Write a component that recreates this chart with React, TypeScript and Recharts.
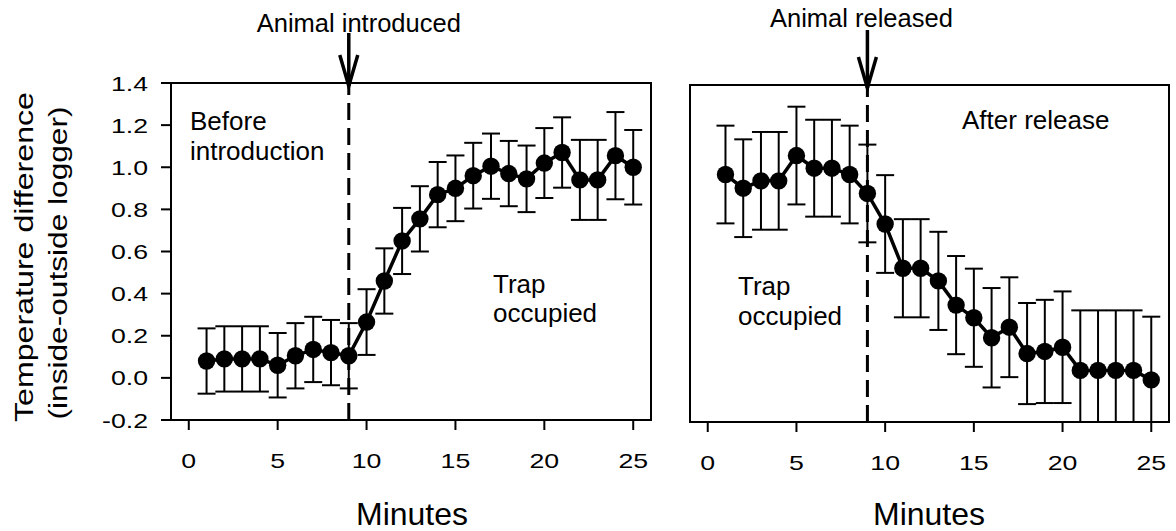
import { LineChart, Line, XAxis, YAxis, ErrorBar, ReferenceLine, ReferenceArea } from 'recharts'

// Two panels: trap warming after the animal goes in, cooling after it is let out.

const minutes = [1, 2, 3, 4, 5, 6, 7, 8, 9, 10, 11, 12, 13, 14, 15, 16, 17, 18, 19, 20, 21, 22, 23, 24, 25]

const introMean = [
  0.08, 0.09, 0.09, 0.09, 0.06, 0.105, 0.135, 0.12, 0.105, 0.265, 0.46, 0.65, 0.755, 0.87, 0.9, 0.96,
  1.005, 0.97, 0.945, 1.02, 1.07, 0.94, 0.94, 1.055, 1.0,
]
const introErr = [
  0.155, 0.155, 0.155, 0.155, 0.153, 0.155, 0.155, 0.155, 0.155, 0.156, 0.155, 0.157, 0.155, 0.155, 0.156,
  0.156, 0.155, 0.155, 0.158, 0.166, 0.167, 0.19, 0.19, 0.207, 0.177,
]

const releaseMean = [
  0.975, 0.91, 0.945, 0.945, 1.065, 1.005, 1.005, 0.975, 0.885, 0.74, 0.53, 0.53, 0.47, 0.355, 0.295, 0.2,
  0.25, 0.125, 0.135, 0.155, 0.045, 0.045, 0.045, 0.045, 0.0,
]
const releaseErr = [
  0.232, 0.232, 0.232, 0.232, 0.232, 0.23, 0.23, 0.232, 0.232, 0.232, 0.233, 0.233, 0.233, 0.233, 0.233,
  0.236, 0.237, 0.24, 0.245, 0.265, 0.285, 0.285, 0.285, 0.285, 0.3,
]

const xTicks = [0, 5, 10, 15, 20, 25]
const yTicks = [-0.2, 0, 0.2, 0.4, 0.6, 0.8, 1.0, 1.2, 1.4]
const Y_MIN = -0.2
const Y_MAX = 1.4
const eventMinute = 9

const FONT = '"Liberation Sans", Arial, Helvetica, sans-serif'
const INK = '#000'
const H = 531

// error bars are not clipped by the plot area, so the low whisker stops at the axis floor
function rows(mean: number[], err: number[]) {
  return minutes.map((m, i) => ({
    minute: m,
    value: mean[i],
    err: [Math.min(err[i], mean[i] - Y_MIN), err[i]],
  }))
}

// the original type is set wide, so the tick labels get stretched sideways
function XTick({ x, y, payload }: any) {
  return (
    <g transform={`translate(${x},${y}) scale(1.27,1)`}>
      <text textAnchor="middle" dy={15} fontSize={21} fontFamily={FONT} fill={INK}>
        {payload.value}
      </text>
    </g>
  )
}

function YTick({ x, y, payload }: any) {
  return (
    <g transform={`translate(${x},${y}) scale(1.27,1)`}>
      <text textAnchor="end" dy={7.5} fontSize={21} fontFamily={FONT} fill={INK}>
        {Number(payload.value).toFixed(1)}
      </text>
    </g>
  )
}

function ArrowMark({ vb, text, dx, textY, top }: any) {
  const x = vb.x
  const y = vb.y
  const tip = y + 3
  return (
    <g>
      <text x={x + dx} y={y + textY} textAnchor="middle" fontSize={25.5} fontFamily={FONT} fill={INK}>
        {text}
      </text>
      <line x1={x} y1={y + top} x2={x} y2={tip} stroke={INK} strokeWidth={3.5} />
      <polyline
        points={`${x - 9},${tip - 31} ${x},${tip} ${x + 9},${tip - 31}`}
        fill="none"
        stroke={INK}
        strokeWidth={3.5}
      />
    </g>
  )
}

function Panel({ data, left, width, margin, yWidth, labels, event }: any) {
  return (
    <div style={{ position: 'absolute', left, top: 0 }}>
      <LineChart width={width} height={H} data={data} margin={margin}>
        <XAxis
          type="number"
          dataKey="minute"
          domain={[-1, 26]}
          ticks={xTicks}
          interval={0}
          height={60}
          tickSize={10}
          tickMargin={23}
          axisLine={false}
          tickLine={{ stroke: INK, strokeWidth: 2 }}
          tick={(p: any) => <XTick {...p} />}
          allowDataOverflow
        />
        <YAxis
          type="number"
          domain={[Y_MIN, Y_MAX]}
          ticks={yTicks}
          interval={0}
          width={yWidth}
          tickSize={10}
          tickMargin={13}
          axisLine={false}
          tickLine={{ stroke: INK, strokeWidth: 2 }}
          tick={labels ? (p: any) => <YTick {...p} /> : false}
          allowDataOverflow
        />
        <ReferenceArea
          x1={-1}
          x2={26}
          y1={Y_MIN}
          y2={Y_MAX}
          fill="none"
          fillOpacity={0}
          stroke={INK}
          strokeWidth={2}
          ifOverflow="visible"
        />
        <ReferenceLine
          x={eventMinute}
          stroke={INK}
          strokeWidth={3}
          strokeDasharray="17 8"
          label={(p: any) => <ArrowMark vb={p.viewBox ?? p} {...event} />}
        />
        <Line
          type="linear"
          dataKey="value"
          stroke={INK}
          strokeWidth={3.5}
          dot={{ r: 8.7, fill: INK, stroke: INK, strokeWidth: 0 }}
          activeDot={false}
          isAnimationActive={false}
        >
          <ErrorBar dataKey="err" direction="y" width={9} stroke={INK} strokeWidth={2} />
        </Line>
      </LineChart>
    </div>
  )
}

function Words() {
  const t = { fontFamily: FONT, fill: INK }
  return (
    <svg
      width={1176}
      height={H}
      style={{ position: 'absolute', left: 0, top: 0, pointerEvents: 'none' }}
    >
      <g {...t} fontSize={26}>
        <text x={190} y={130}>Before</text>
        <text x={190} y={160}>introduction</text>
        <text x={493} y={293}>Trap</text>
        <text x={493} y={322}>occupied</text>
        <text x={962} y={129}>After release</text>
        <text x={738} y={295}>Trap</text>
        <text x={738} y={325}>occupied</text>
      </g>
      <g {...t} fontSize={32} textAnchor="middle">
        <text x={412} y={525}>Minutes</text>
        <text x={929} y={525}>Minutes</text>
      </g>
      <g {...t} fontSize={25.5} textAnchor="middle">
        <text
          transform="translate(33,257) rotate(-90)"
          textLength={330}
          lengthAdjust="spacingAndGlyphs"
        >
          Temperature difference
        </text>
        <text
          transform="translate(67,263) rotate(-90)"
          textLength={313}
          lengthAdjust="spacingAndGlyphs"
        >
          (inside-outside logger)
        </text>
      </g>
    </svg>
  )
}

export default function App() {
  return (
    <div style={{ position: 'absolute', left: 0, top: 0, width: 1176, height: H, background: '#fff' }}>
      <Panel
        data={rows(introMean, introErr)}
        left={0}
        width={660}
        margin={{ top: 83, right: 9, bottom: 51, left: 111 }}
        yWidth={60}
        labels
        event={{ text: 'Animal introduced', dx: 10, textY: -51, top: -50 }}
      />
      <Panel
        data={rows(releaseMean, releaseErr)}
        left={660}
        width={516}
        margin={{ top: 85, right: 7, bottom: 49, left: 10 }}
        yWidth={20}
        labels={false}
        event={{ text: 'Animal released', dx: -6, textY: -58, top: -55 }}
      />
      <Words />
    </div>
  )
}
